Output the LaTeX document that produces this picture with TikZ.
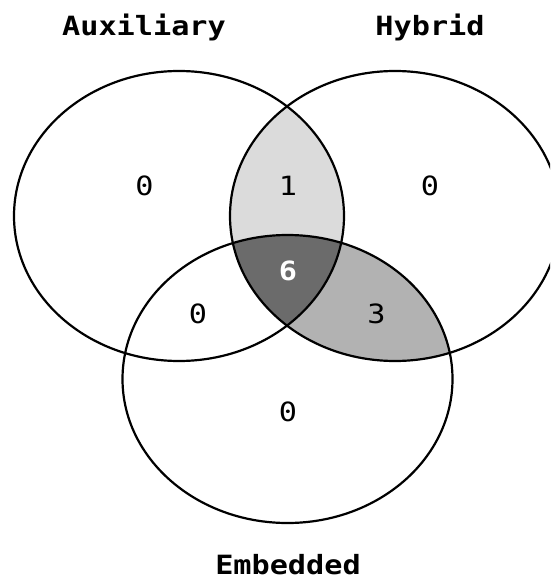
\documentclass[tikz,border=0pt]{standalone}
\usepackage{fontspec}
\newfontfamily\vmono{DejaVu Sans Mono}
\definecolor{lightfill}{gray}{0.86}
\definecolor{midfill}{gray}{0.70}
\definecolor{darkfill}{gray}{0.42}
\def\pathA{(179,216) ellipse [x radius=165pt, y radius=145pt]}
\def\pathH{(395,216) ellipse [x radius=165pt, y radius=145pt]}
\def\pathE{(287.5,379) ellipse [x radius=165pt, y radius=144pt]}
\newcommand{\wide}[1]{\scalebox{1.14}[1]{#1}}
\begin{document}
\begin{tikzpicture}[x=1pt,y=-1pt,
  setlabel/.style={font=\vmono\bfseries\fontsize{26.5}{28}\selectfont, anchor=base, inner sep=0pt},
  count/.style={font=\vmono\fontsize{26.5}{28}\selectfont, inner sep=0pt},
  ring/.style={line width=2.2pt, draw=black}]
\useasboundingbox (0,0) rectangle (550,580);
\clip (0,0) rectangle (550,580);
% light lens A and H
\begin{scope}
  \clip \pathA;
  \fill[lightfill] \pathH;
\end{scope}
% H and E
\begin{scope}
  \clip \pathH;
  \fill[midfill] \pathE;
\end{scope}
% A, H and E
\begin{scope}
  \clip \pathA;
  \clip \pathH;
  \fill[darkfill] \pathE;
\end{scope}
\draw[ring] \pathA;
\draw[ring] \pathH;
\draw[ring] \pathE;
% set labels
\node[setlabel] (labA) at (144,36) {\wide{Auxiliary}};
\node[setlabel] (labH) at (430,36) {\wide{Hybrid}};
\node[setlabel] (labE) at (288,574) {\wide{Embedded}};
% counts
\node[count] (nA) at (144.5,186) {\wide{0}};
\node[count] (nAH) at (288,186) {\wide{1}};
\node[count] (nH) at (430,186) {\wide{0}};
\node[count, text=white, font=\vmono\bfseries\fontsize{26.5}{28}\selectfont] (nAHE) at (288,271) {\wide{6}};
\node[count] (nAE) at (198,314) {\wide{0}};
\node[count] (nHE) at (376.5,314) {\wide{3}};
\node[count] (nE) at (288,412) {\wide{0}};
\end{tikzpicture}
\end{document}
